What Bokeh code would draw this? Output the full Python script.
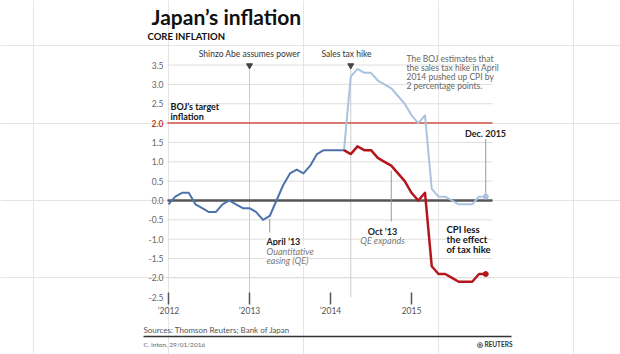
from bokeh.plotting import figure
from bokeh.models import Range1d, Label
from bokeh.core.properties import value
from bokeh.embed import file_html
from bokeh.resources import INLINE

W, H = 620, 354

# ---------------- data ----------------
# month index: 0 = Jan 2012
core_start = 0          # Jan 2012 .. Mar 2014 (core CPI, dark blue)
core_cpi = [-0.1, 0.1, 0.2, 0.2, -0.1, -0.2, -0.3, -0.3, -0.1, 0.0, -0.1, -0.2,
            -0.2, -0.3, -0.5, -0.4, 0.0, 0.4, 0.7, 0.8, 0.7, 0.9, 1.2, 1.3,
            1.3, 1.3, 1.3]
tax_start = 26          # Mar 2014 .. Dec 2015
core_with_tax = [1.3, 3.2, 3.4, 3.3, 3.3, 3.1, 3.0, 2.9, 2.7, 2.5, 2.2, 2.0,
                 2.2, 0.3, 0.1, 0.1, 0.0, -0.1, -0.1, -0.1, 0.1, 0.1]
core_ex_tax = [1.3, 1.2, 1.4, 1.3, 1.3, 1.1, 1.0, 0.9, 0.7, 0.5, 0.2, 0.0,
               0.2, -1.7, -1.9, -1.9, -2.0, -2.1, -2.1, -2.1, -1.9, -1.9]

y_ticks = [-2.5, -2.0, -1.5, -1.0, -0.5, 0.0, 0.5, 1.0, 1.5, 2.0, 2.5, 3.0, 3.5]
y_tick_labels = ["-2.5", "-2.0", "-1.5", "-1.0", "-0.5", "0.0", "0.5", "1.0",
                 "1.5", "2.0", "2.5", "3.0", "3.5"]
x_ticks = [0, 12, 24, 36]
x_tick_labels = ["\u20192012", "\u20192013", "\u20192014", "2015"]
boj_target = 2.0
abe_month = 12          # Shinzo Abe assumes power
tax_hike_month = 27     # April 2014 sales tax hike
qe_month = 15           # April '13
qe_expand_month = 33
last_month = 47         # Dec. 2015

# ---------------- pixel mapping ----------------
X0, DX = 168.0, 6.75      # px of month 0, px per month
Y0, DY = 200.0, 38.7      # px of value 0, px per unit


def vx(px):
    return (px - X0) / DX


def vy(py):
    return (Y0 - py) / DY


p = figure(width=W, height=H, x_range=Range1d(vx(0), vx(W)), y_range=Range1d(vy(H), vy(0)),
           toolbar_location=None, output_backend="svg", x_axis_location=None,
           y_axis_location=None, min_border=0, outline_line_color=None, title=None,
           background_fill_color="white", border_fill_color="white")

FONT = "Lato"
grid_x0, grid_x1 = vx(167), vx(492)

# gridlines
gy = [t for t in y_ticks if t not in (-2.5, 0.0, boj_target)]
p.segment(x0=[grid_x0] * len(gy), x1=[grid_x1] * len(gy), y0=gy, y1=gy,
          line_color="#dedede", line_width=1)

# vertical event lines
for m in (abe_month, tax_hike_month):
    p.segment(x0=[m], x1=[m], y0=[y_ticks[0]], y1=[y_ticks[-1]], line_color="#cccccc", line_width=1)
p.scatter(x=[abe_month, tax_hike_month], y=[vy(65), vy(65)], marker="inverted_triangle",
          size=6, color="#444444")

# target and zero line
p.segment(x0=[grid_x0], x1=[grid_x1], y0=[boj_target], y1=[boj_target], line_color="#d9786c", line_width=2)
p.segment(x0=[grid_x0], x1=[grid_x1], y0=[0], y1=[0], line_color="#555555", line_width=2.5)

# leader lines
p.segment(x0=[qe_month], x1=[qe_month], y0=[vy(218)], y1=[vy(232)], line_color="#999999", line_width=1)
p.segment(x0=[qe_expand_month], x1=[qe_expand_month], y0=[vy(170)], y1=[vy(221)], line_color="#999999", line_width=1)
p.segment(x0=[last_month], x1=[last_month], y0=[vy(138)], y1=[vy(194)], line_color="#999999", line_width=1)

# series
core_x = list(range(core_start, core_start + len(core_cpi)))
tax_x = list(range(tax_start, tax_start + len(core_with_tax)))
p.line(tax_x, core_with_tax, line_color="#a9c3e0", line_width=2, line_join="round")
p.line(core_x, core_cpi, line_color="#4e72ad", line_width=2, line_join="round")
p.line(tax_x, core_ex_tax, line_color="#b4161d", line_width=2.5, line_join="round")
p.scatter(x=[tax_x[-1]], y=[core_with_tax[-1]], size=5, color="#a9c3e0")
p.scatter(x=[tax_x[-1]], y=[core_ex_tax[-1]], size=5, color="#b4161d")

# y tick labels
norm = [i for i, t in enumerate(y_ticks) if t != boj_target]
p.text(x=[vx(163)] * len(norm), y=[y_ticks[i] for i in norm], text=[y_tick_labels[i] for i in norm],
       text_font=value(FONT), text_font_size="8.5px", text_color="#666666",
       text_align="right", text_baseline="middle")
p.text(x=[vx(163)], y=[boj_target], text=[y_tick_labels[y_ticks.index(boj_target)]],
       text_font=value(FONT), text_font_size="8.5px", text_color="#c0392b", text_font_style="bold",
       text_align="right", text_baseline="middle")

# x ticks + labels
p.segment(x0=x_ticks, x1=x_ticks, y0=[vy(292)] * 4, y1=[vy(304)] * 4, line_color="#555555", line_width=1.5)
p.text(x=x_ticks, y=[vy(310)] * 4, text=x_tick_labels, text_font=value(FONT), text_font_size="8.5px",
       text_color="#555555", text_align="center", text_baseline="middle")


def lab(text, px, py, size, color="#222222", style="normal", align="left", bg=None):
    p.add_layout(Label(x=px, y=H - py, x_units="screen", y_units="screen", text=text,
                       text_font=FONT, text_font_size=f"{size}px", text_color=color,
                       text_font_style=style, text_align=align, text_baseline="alphabetic",
                       background_fill_color=bg))


lab("Japan\u2019s inflation", 151, 16, 21, "#111111", "bold")
lab("CORE INFLATION", 147, 36, 9.5, "#111111", "bold")
lab("Shinzo Abe assumes power", 249, 53, 8.5, "#333333", align="center")
lab("Sales tax hike", 346, 53, 8.5, "#333333", align="center")
for i, t in enumerate(["The BOJ estimates that", "the sales tax hike in April",
                       "2014 pushed up CPI by", "2 percentage points."]):
    lab(t, 406, 58 + 9.1 * i, 8.5, "#666666")
lab("BOJ\u2019s target", 170, 106, 9, "#111111", "bold")
lab("inflation", 170, 115.5, 9, "#111111", "bold")
lab("Dec. 2015", 485, 133, 9, "#222222", "bold", align="center", bg="white")
lab("April \u201913", 266, 241, 9, "#222222", "bold", bg="white")
lab("Quantitative", 266, 250.5, 9, "#777777", "italic", bg="white")
lab("easing (QE)", 266, 260, 9, "#777777", "italic", bg="white")
lab("Oct \u201913", 382, 231, 9, "#222222", "bold", align="center", bg="white")
lab("QE expands", 382, 240, 9, "#777777", "italic", align="center", bg="white")
lab("CPI less", 446, 229, 9.5, "#111111", "bold", bg="white")
lab("the effect", 446, 239, 9.5, "#111111", "bold", bg="white")
lab("of tax hike", 446, 249, 9.5, "#111111", "bold", bg="white")
lab("Sources: Thomson Reuters; Bank of Japan", 143, 329, 8, "#555555")
lab("C. Inton, 29/01/2016", 143, 344, 6.5, "#666666")
lab("\u25CE REUTERS", 512, 344, 6.5, "#333333", "bold", align="right")

# footer separator
p.segment(x0=[vx(143)], x1=[vx(511)], y0=[vy(336)], y1=[vy(336)], line_color="#333333", line_width=1.5)

open("out.html", "w").write(file_html(p, INLINE))
